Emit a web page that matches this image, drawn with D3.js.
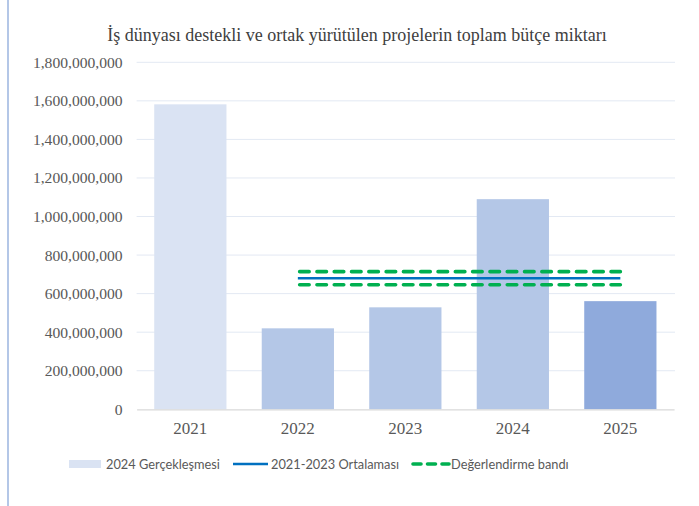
<!DOCTYPE html>
<html>
<head>
<meta charset="utf-8">
<script src="https://cdn.jsdelivr.net/npm/d3@7"></script>
<style>
  body { margin: 0; background: #fff; }
  svg { display: block; }
</style>
</head>
<body>
<div id="chart"></div>
<script>
var title = 'İş dünyası destekli ve ortak yürütülen projelerin toplam bütçe miktarı';
var years = ['2021', '2022', '2023', '2024', '2025'];
var budgets = [1582000000, 420000000, 529000000, 1090000000, 561000000];
var barColors = ['#dae3f3', '#b4c7e7', '#b4c7e7', '#b4c7e7', '#8faadc'];
var lineYears = ['2022', '2025'];
var average = 680000000;
var bandUpper = 714000000;
var bandLower = 646000000;
var yTicks = [0, 200000000, 400000000, 600000000, 800000000, 1000000000,
    1200000000, 1400000000, 1600000000, 1800000000];
var legendLabels = ['2024 Gerçekleşmesi', '2021-2023 Ortalaması', 'Değerlendirme bandı'];

var width = 699, height = 506;
var margin = {left: 136.6, right: 24, top: 62.3, bottom: 96.7};
var serif = "'Liberation Serif', 'Times New Roman', 'DejaVu Serif', serif";

var svg = d3.select('#chart').append('svg')
    .attr('width', width)
    .attr('height', height);

// left border line
svg.append('line')
    .attr('x1', 8).attr('x2', 8)
    .attr('y1', 0).attr('y2', height)
    .style('stroke', '#b4c7e7')
    .style('stroke-width', 2);

svg.append('text')
    .attr('x', 357)
    .attr('y', 41)
    .attr('text-anchor', 'middle')
    .attr('font-family', serif)
    .attr('font-size', 18)
    .style('fill', '#404040')
    .text(title);

var x = d3.scaleBand()
    .domain(years)
    .range([margin.left, width - margin.right - 0.9])
    .paddingInner(0.328)
    .paddingOuter(0.164);

var y = d3.scaleLinear()
    .domain([0, 1800000000])
    .range([height - margin.bottom, margin.top]);

// gridlines
svg.append('g')
    .selectAll('line')
    .data(yTicks.slice(1))
    .enter().append('line')
    .attr('x1', margin.left)
    .attr('x2', width - margin.right)
    .attr('y1', function(d) { return y(d); })
    .attr('y2', function(d) { return y(d); })
    .style('stroke', '#e3e9f3')
    .style('stroke-width', 1);

// y axis labels
var yAxis = d3.axisLeft(y)
    .tickValues(yTicks)
    .tickSize(0)
    .tickPadding(0)
    .tickFormat(d3.format(','));
var yG = svg.append('g')
    .attr('transform', 'translate(' + (margin.left - 14) + ',0)')
    .call(yAxis)
    .attr('font-family', serif)
    .attr('font-size', 15.6);
yG.select('.domain').remove();
yG.selectAll('text').attr('fill', '#595959');

// bars
svg.append('g')
    .selectAll('rect')
    .data(budgets)
    .enter().append('rect')
    .attr('x', function(d, i) { return x(years[i]); })
    .attr('width', x.bandwidth())
    .attr('y', function(d) { return y(d); })
    .attr('height', function(d) { return y(0) - y(d); })
    .style('fill', function(d, i) { return barColors[i]; });

// x axis
var xAxis = d3.axisBottom(x).tickSize(0).tickPadding(13);
var xG = svg.append('g')
    .attr('transform', 'translate(0,' + y(0) + ')')
    .call(xAxis)
    .attr('font-family', serif)
    .attr('font-size', 17);
xG.select('.domain')
    .style('stroke', '#d9d9d9')
    .style('stroke-width', 1.3);
xG.selectAll('text').attr('fill', '#595959');

// average and band lines
var lx1 = x(lineYears[0]) + x.bandwidth() / 2;
var lx2 = x(lineYears[1]) + x.bandwidth() / 2;
[bandUpper, bandLower].forEach(function(v) {
    svg.append('line')
        .attr('x1', lx1 + 1.8).attr('x2', lx2)
        .attr('y1', y(v)).attr('y2', y(v))
        .style('stroke', '#00b050')
        .style('stroke-width', 3.6)
        .style('stroke-linecap', 'round')
        .style('stroke-dasharray', '9.5 7.8');
});
svg.append('line')
    .attr('x1', lx1).attr('x2', lx2)
    .attr('y1', y(average)).attr('y2', y(average))
    .style('stroke', '#0070c0')
    .style('stroke-width', 2.6);

// legend
var legendY = 464;
var legend = svg.append('g')
    .attr('font-family', "Lato, 'Open Sans', sans-serif")
    .attr('font-size', 12.8)
    .attr('fill', '#595959');

legend.append('rect')
    .attr('x', 69).attr('y', legendY - 4)
    .attr('width', 32).attr('height', 8)
    .style('fill', barColors[0]);
legend.append('text')
    .attr('x', 106).attr('y', legendY + 5)
    .text(legendLabels[0]);

legend.append('line')
    .attr('x1', 233).attr('x2', 268)
    .attr('y1', legendY).attr('y2', legendY)
    .style('stroke', '#0070c0')
    .style('stroke-width', 2.6);
legend.append('text')
    .attr('x', 271).attr('y', legendY + 5)
    .text(legendLabels[1]);

legend.append('line')
    .attr('x1', 413).attr('x2', 449)
    .attr('y1', legendY).attr('y2', legendY)
    .style('stroke', '#00b050')
    .style('stroke-width', 3.6)
    .style('stroke-linecap', 'round')
    .style('stroke-dasharray', '8 6.5');
legend.append('text')
    .attr('x', 451).attr('y', legendY + 5)
    .text(legendLabels[2]);
</script>
</body>
</html>
